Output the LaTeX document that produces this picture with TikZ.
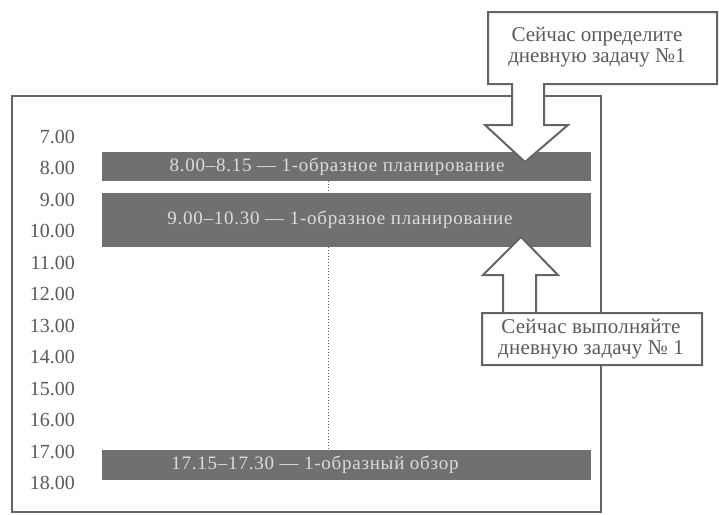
\documentclass[tikz,border=0pt]{standalone}
\usepackage{fontspec}
\setmainfont{Liberation Serif}
\newfontfamily\barfont[LetterSpace=4]{Liberation Serif}
\newfontfamily\callfontb[LetterSpace=1]{Liberation Serif}
\definecolor{lineg}{HTML}{646464}
\definecolor{barg}{HTML}{707070}
\definecolor{textg}{HTML}{5A5A5A}
\definecolor{bartext}{HTML}{DCDCDC}
\begin{document}
\begin{tikzpicture}[x=1pt,y=-1pt,
  frameline/.style={draw=lineg,line width=2pt},
  timelabel/.style={anchor=east,text=textg,font=\fontsize{20}{22}\selectfont,inner sep=0pt},
  barbox/.style={fill=barg,draw=none,minimum width=489pt,inner sep=0pt},
  bartxt/.style={text=bartext,inner sep=0pt,font=\barfont\fontsize{19}{21}\selectfont},
  callout/.style={draw=lineg,fill=white,line width=2pt,line join=miter},
  callouttext/.style={align=center,text=textg,inner sep=0pt},
  dotline/.style={draw=lineg,line width=1pt,dotted}]
\useasboundingbox (0,0) rectangle (719,514);
% main frame
\draw[frameline] (12,96) rectangle (601,512);
% time labels
\foreach \t [count=\i from 0] in {7.00,8.00,9.00,10.00,11.00,12.00,13.00,14.00,15.00,16.00,17.00,18.00}
  \node[timelabel] (t\i) at (75,{137+31.45*\i}) {\t};
% bars
\node[barbox,minimum height=29pt] (bar1) at (346.5,166.5) {};
\node[barbox,minimum height=54pt] (bar2) at (346.5,220) {};
\node[barbox,minimum height=30pt] (bar3) at (346.5,465) {};
\node[bartxt] (b1t) at (337,167) {8.00–8.15 — 1-образное планирование};
\node[bartxt] (b2t) at (340,220) {9.00–10.30 — 1-образное планирование};
\node[bartxt] (b3t) at (315,465) {17.15–17.30 — 1-образный обзор};
% dotted line
\coordinate (dx) at (328,0);
\draw[dotline] (bar1.south -| dx) -- (bar2.north -| dx);
\draw[dotline] (bar2.south -| dx) -- (bar3.north -| dx);
% top callout
\draw[callout] (488,12) -- (717,12) -- (717,84) -- (544,84) -- (544,125) -- (568,125)
  -- (525,162) -- (485,125) -- (512,125) -- (512,84) -- (488,84) -- cycle;
\node[callouttext,font=\fontsize{21}{21}\selectfont] (c1) at (597,47) {Сейчас определите\\дневную задачу №1};
% bottom callout
\draw[callout] (482,313) -- (702,313) -- (702,365) -- (482,365) -- (482,313) -- (503,313)
  -- (503,275) -- (483,275) -- (521,237) -- (558,275) -- (536,275) -- (536,313);
\node[callouttext,font=\callfontb\fontsize{21}{21}\selectfont] (c2) at (591,339) {Сейчас выполняйте\\дневную задачу № 1};
\end{tikzpicture}
\end{document}
